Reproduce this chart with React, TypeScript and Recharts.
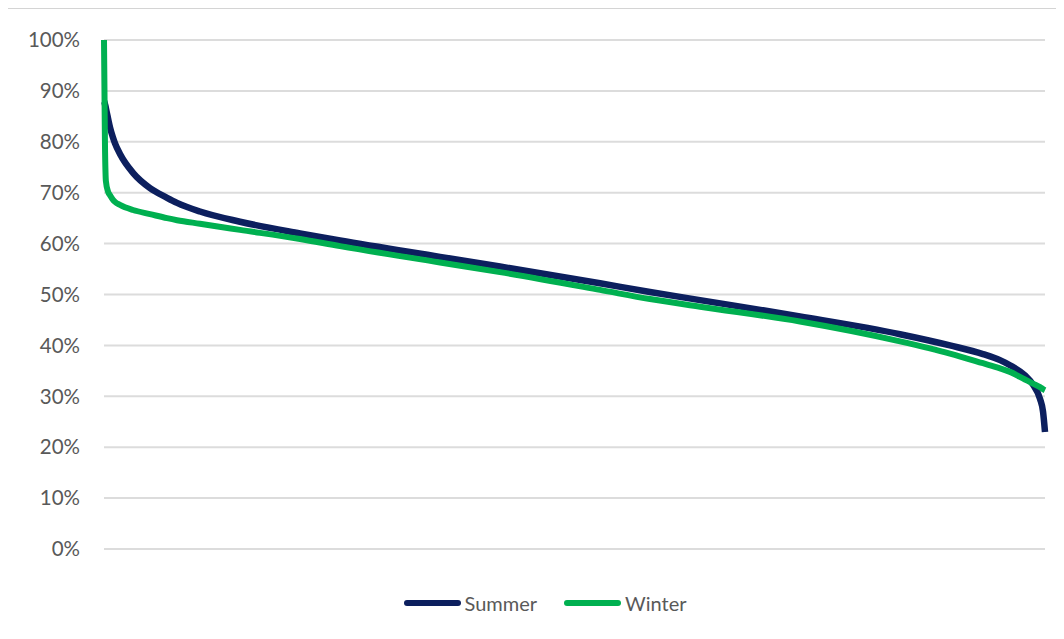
import { LineChart, Line, XAxis, YAxis, CartesianGrid, Legend } from "recharts";

// share of the period (%), sorted high to low
const positions = [0, 0.05, 0.1, 0.16, 0.2, 0.43, 0.64, 0.96, 1.17, 1.7, 3.08, 4.89, 6.7, 7.76, 10.2, 14.45, 20.83, 25.08, 35.71, 42.08, 52.71, 58.02, 63.34, 73.96, 84.59, 89.9, 93.41, 95.22, 96.28, 97.87, 98.72, 99.47, 99.79, 100];
const summer = [88, 87.8, 87.4, 87, 86.6, 84.6, 82.8, 80.8, 79.7, 77.6, 73.9, 70.9, 69, 68, 66.3, 64.3, 62, 60.6, 57.4, 55.5, 52.2, 50.5, 48.9, 45.7, 42.2, 40, 38.3, 37.1, 36.1, 34.1, 32.3, 29.5, 27, 23];
const winter = [100, 90, 80, 74, 72.3, 70.2, 69.5, 68.6, 68.2, 67.6, 66.6, 65.8, 65, 64.6, 63.9, 62.7, 60.9, 59.5, 56.3, 54.4, 50.9, 49.1, 47.6, 44.7, 40.8, 38.4, 36.5, 35.5, 34.8, 33.3, 32.5, 31.8, 31.4, 31.2];
const yTicks = [0, 10, 20, 30, 40, 50, 60, 70, 80, 90, 100];

const SERIES = [
  { key: "summer", label: "Summer", color: "#0c1f5e", width: 6.5 },
  { key: "winter", label: "Winter", color: "#00b050", width: 6 },
];

const FONT = "Lato, 'Open Sans', sans-serif";
const TEXT = "#595959";
const W = 1074;
const H = 630;

const data = positions.map((p, i) => ({ p, summer: summer[i], winter: winter[i] }));

function LegendRow() {
  return (
    <div style={{ height: 30, display: "flex", justifyContent: "center", alignItems: "center", fontFamily: FONT, fontSize: 20, color: TEXT }}>
      {SERIES.map((s, i) => (
        <div key={s.key} style={{ display: "flex", alignItems: "center", marginLeft: i ? 27 : 0 }}>
          <span style={{ display: "inline-block", width: 57, height: 6, borderRadius: 3, background: s.color }} />
          <span style={{ marginLeft: 4 }}>{s.label}</span>
        </div>
      ))}
    </div>
  );
}

export default function App() {
  return (
    <div style={{ width: 1056, height: 631, overflow: "hidden", marginLeft: -1 }}>
      <div style={{ width: W, height: H + 10, border: "1px solid #d4d4d4", background: "#fff" }}>
        <LineChart width={W} height={H} data={data} margin={{ top: 31, right: 37, left: 0, bottom: 60 }}>
          <CartesianGrid vertical={false} stroke="#dcdcdc" strokeWidth={2} />
          <XAxis type="number" dataKey="p" domain={[0, 100]} hide />
          <YAxis
            domain={[0, 100]}
            ticks={yTicks}
            width={96}
            axisLine={false}
            tickLine={false}
            tickSize={6}
            tickMargin={18}
            tickFormatter={(v: number) => `${v}%`}
            tick={{ fontSize: 20.5, fill: TEXT, fontFamily: FONT }}
          />
          <Legend
            verticalAlign="bottom"
            content={() => <LegendRow />}
            wrapperStyle={{ left: 0, width: W, bottom: 21 }}
          />
          {SERIES.map((s) => (
            <Line key={s.key} type="monotone" dataKey={s.key} name={s.label}
              stroke={s.color} strokeWidth={s.width} dot={false} isAnimationActive={false} />
          ))}
        </LineChart>
      </div>
    </div>
  );
}
